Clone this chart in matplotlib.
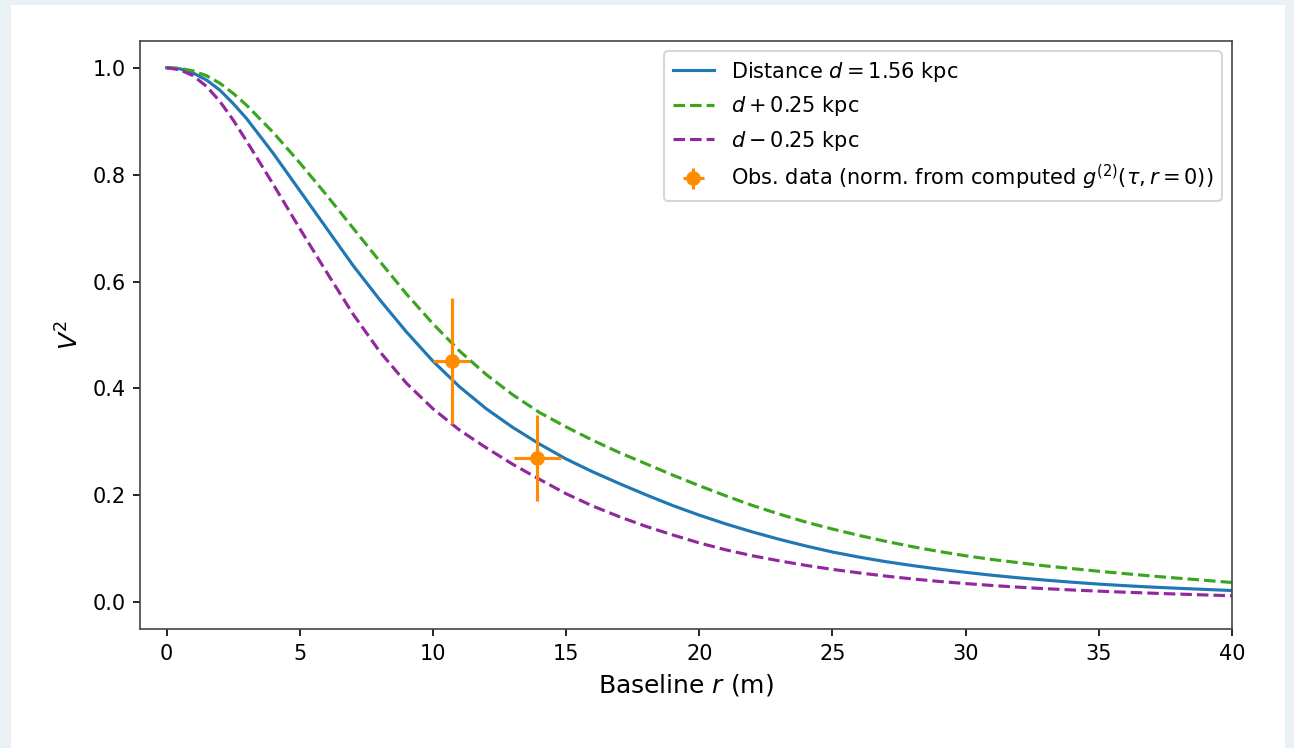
import numpy as np
import matplotlib
matplotlib.use("Agg")
import matplotlib.pyplot as plt
from matplotlib.patches import Rectangle

# baseline grid (m) and squared visibility
r = [0, 0.5, 1, 1.5, 2, 2.5] + list(range(3, 41))
v2_d = [1.000, 0.998, 0.990, 0.977, 0.958, 0.933,
        0.905, 0.840, 0.770, 0.700, 0.630, 0.566, 0.506, 0.451, 0.403, 0.362,
        0.327, 0.296, 0.268, 0.244, 0.222, 0.201, 0.181, 0.163, 0.1465, 0.1315,
        0.1178, 0.1053, 0.094, 0.0845, 0.076, 0.0687, 0.062, 0.056, 0.0505, 0.0457,
        0.0414, 0.0375, 0.034, 0.031, 0.0284, 0.0261, 0.024, 0.022]
v2_plus = [1.000, 0.999, 0.994, 0.985, 0.971, 0.952,
           0.930, 0.879, 0.822, 0.762, 0.700, 0.638, 0.577, 0.521, 0.470, 0.426,
           0.388, 0.355, 0.328, 0.303, 0.280, 0.259, 0.238, 0.218, 0.199, 0.181,
           0.165, 0.150, 0.137, 0.125, 0.114, 0.104, 0.095, 0.087, 0.080, 0.074,
           0.068, 0.063, 0.058, 0.0535, 0.049, 0.045, 0.041, 0.037]
v2_minus = [1.000, 0.996, 0.985, 0.965, 0.937, 0.902,
            0.863, 0.782, 0.699, 0.618, 0.539, 0.469, 0.410, 0.362, 0.322, 0.289,
            0.258, 0.230, 0.203, 0.180, 0.160, 0.142, 0.126, 0.111, 0.098, 0.087,
            0.0775, 0.069, 0.0615, 0.055, 0.049, 0.0437, 0.039, 0.035, 0.0314, 0.0282,
            0.0254, 0.023, 0.0208, 0.0188, 0.017, 0.0153, 0.0137, 0.0122]

# observed points
obs_r = [10.70, 13.92]
obs_v2 = [0.451, 0.270]
obs_rerr = [0.69, 0.88]
obs_v2err = [0.118, 0.080]

dpi = 150
fig = plt.figure(figsize=(1294 / dpi, 748 / dpi), dpi=dpi)
fig.patch.set_facecolor("#e9f1f4")
fig.add_artist(Rectangle((11 / 1294, 0), 1274 / 1294, 743 / 748,
                         transform=fig.transFigure, facecolor="white",
                         edgecolor="none", zorder=-1))

ax = fig.add_axes([140 / 1294, 1 - 629 / 748, 1092 / 1294, 588 / 748])

ax.plot(r, v2_d, color="tab:blue", label="Distance $d = 1.56$ kpc")
ax.plot(r, v2_plus, "--", color="#3aa51f", label="$d + 0.25$ kpc")
ax.plot(r, v2_minus, "--", color="#93279f", label="$d - 0.25$ kpc")
ax.errorbar(obs_r, obs_v2, xerr=obs_rerr, yerr=obs_v2err, fmt="o", color="darkorange",
            label="Obs. data (norm. from computed $g^{(2)}(\\tau, r = 0)$)")

ax.set_xlim(-1, 40)
ax.set_ylim(-0.05, 1.05)
ax.set_xticks(np.arange(0, 41, 5))
ax.set_yticks([0.0, 0.2, 0.4, 0.6, 0.8, 1.0])
for s in ax.spines.values():
    s.set_color("#444444")

ax.set_xlabel("Baseline $r$ (m)", fontsize=12)
ax.set_ylabel("$V^2$", fontsize=12)
ax.legend(loc="upper right")

fig.savefig("out.png", dpi=dpi)
